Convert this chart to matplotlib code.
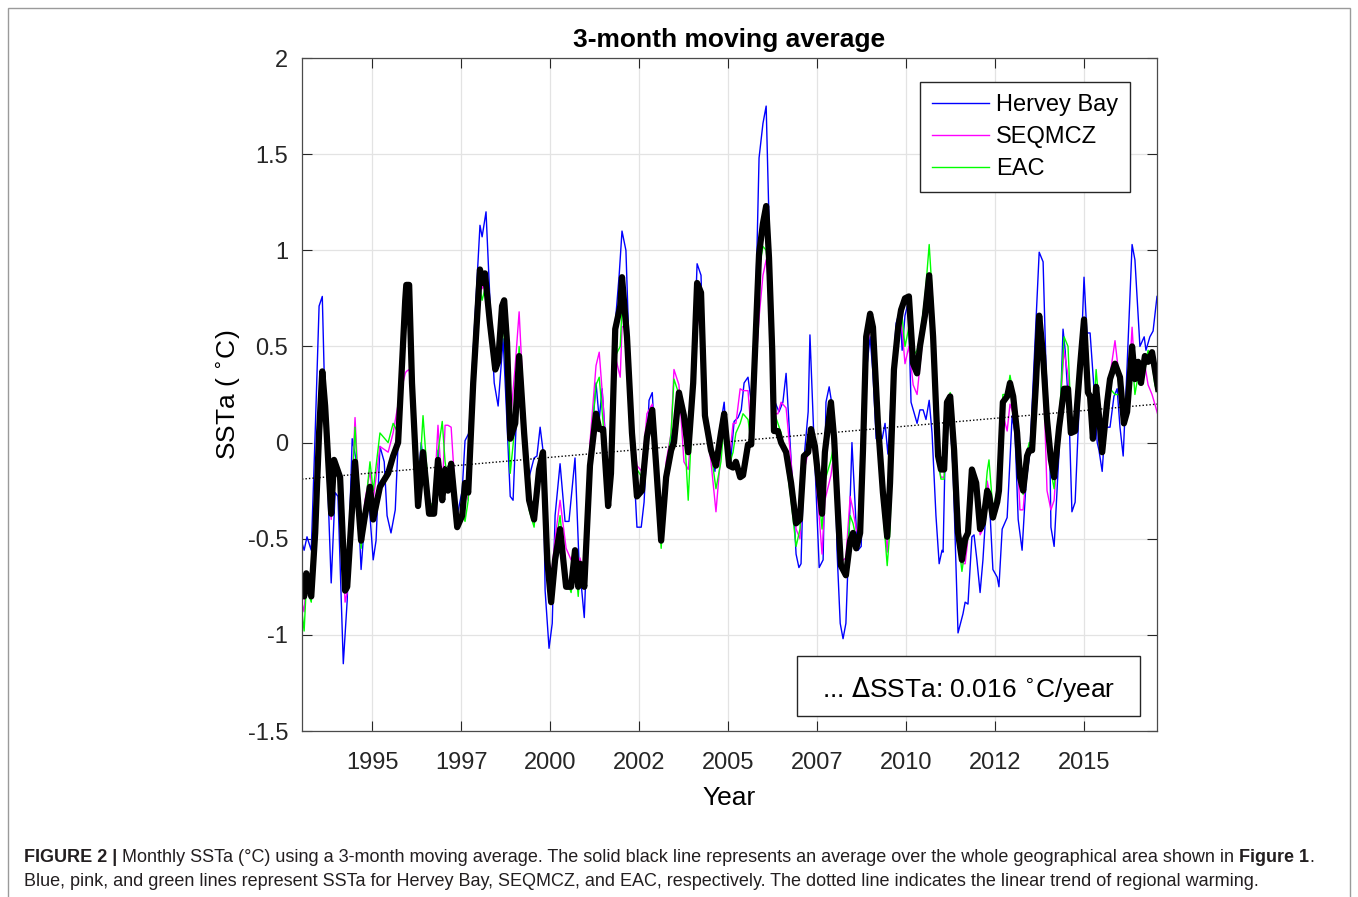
import matplotlib.pyplot as plt
from matplotlib.patches import Rectangle

plt.rcParams['font.family'] = ['Liberation Sans', 'DejaVu Sans']

# ---------------------------------------------------------------
# data (decimal year, SSTa in degC)
# ---------------------------------------------------------------
yr = [1993.01, 1993.09, 1993.15, 1993.29, 1993.40, 1993.51, 1993.60, 1993.68, 1993.85, 1993.93,
      1994.10, 1994.24, 1994.30, 1994.52, 1994.69, 1994.80, 1994.94, 1995.03, 1995.22, 1995.45,
      1995.59, 1995.73, 1995.93, 1995.96, 1996.04, 1996.12, 1996.29, 1996.43, 1996.60, 1996.74,
      1996.85, 1996.97, 1997.05, 1997.13, 1997.22, 1997.39, 1997.53, 1997.61, 1997.70, 1997.84,
      1998.03, 1998.09, 1998.17, 1998.31, 1998.46, 1998.54, 1998.65, 1998.71, 1998.79, 1998.88,
      1999.02, 1999.13, 1999.27, 1999.41, 1999.55, 1999.69, 1999.80, 1999.92, 2000.03, 2000.14,
      2000.28, 2000.45, 2000.59, 2000.70, 2000.79, 2000.84, 2000.96, 2001.12, 2001.29, 2001.38,
      2001.49, 2001.63, 2001.71, 2001.83, 2001.97, 2002.02, 2002.16, 2002.30, 2002.44, 2002.58,
      2002.72, 2002.87, 2002.98, 2003.12, 2003.26, 2003.40, 2003.48, 2003.62, 2003.76, 2003.88,
      2004.02, 2004.13, 2004.24, 2004.35, 2004.52, 2004.66, 2004.80, 2004.89, 2005.03, 2005.14,
      2005.22, 2005.34, 2005.42, 2005.56, 2005.65, 2005.76, 2005.87, 2005.98, 2006.07, 2006.15,
      2006.24, 2006.29, 2006.40, 2006.49, 2006.63, 2006.77, 2006.91, 2007.02, 2007.13, 2007.25,
      2007.33, 2007.44, 2007.64, 2007.72, 2007.89, 2007.98, 2008.09, 2008.17, 2008.31, 2008.43,
      2008.51, 2008.60, 2008.71, 2008.79, 2008.88, 2008.99, 2009.07, 2009.21, 2009.35, 2009.47,
      2009.55, 2009.66, 2009.78, 2009.86, 2009.97, 2010.08, 2010.20, 2010.31, 2010.39, 2010.53,
      2010.65, 2010.76, 2010.90, 2010.98, 2011.07, 2011.15, 2011.24, 2011.35, 2011.46, 2011.57,
      2011.66, 2011.74, 2011.85, 2011.97, 2012.08, 2012.16, 2012.28, 2012.33, 2012.44, 2012.56,
      2012.61, 2012.72, 2012.84, 2012.92, 2013.01, 2013.12, 2013.20, 2013.29, 2013.40, 2013.46,
      2013.54, 2013.65, 2013.74, 2013.85, 2013.96, 2014.07, 2014.16, 2014.30, 2014.44, 2014.55,
      2014.63, 2014.75, 2014.89, 2015.00, 2015.11, 2015.17, 2015.25, 2015.34, 2015.42, 2015.51,
      2015.65, 2015.73, 2015.87, 2016.01, 2016.12, 2016.21, 2016.35, 2016.43, 2016.52, 2016.60,
      2016.71, 2016.80, 2016.91, 2016.99, 2017.08]

ssta_avg = [-0.70, -0.80, -0.68, -0.80, -0.47, 0.05, 0.37, 0.19, -0.37, -0.09,
            -0.18, -0.77, -0.75, -0.10, -0.51, -0.38, -0.23, -0.40, -0.23, -0.16,
            -0.07, 0.00, 0.74, 0.82, 0.82, 0.31, -0.33, -0.05, -0.37, -0.37,
            -0.09, -0.30, -0.14, -0.25, -0.11, -0.44, -0.38, -0.21, -0.26, 0.31,
            0.90, 0.83, 0.88, 0.62, 0.38, 0.42, 0.71, 0.74, 0.52, 0.02,
            0.10, 0.45, 0.05, -0.30, -0.40, -0.14, -0.05, -0.61, -0.83, -0.61,
            -0.45, -0.75, -0.75, -0.56, -0.75, -0.63, -0.75, -0.12, 0.15, 0.07,
            0.07, -0.33, -0.16, 0.59, 0.71, 0.86, 0.55, 0.05, -0.28, -0.25,
            0.03, 0.17, -0.12, -0.51, -0.18, -0.04, 0.00, 0.26, 0.14, -0.05,
            0.31, 0.83, 0.78, 0.14, -0.04, -0.12, 0.05, 0.15, -0.12, -0.13,
            -0.10, -0.18, -0.17, -0.01, -0.01, 0.48, 0.98, 1.14, 1.23, 0.96,
            0.48, 0.06, 0.06, 0.00, -0.05, -0.21, -0.42, -0.40, -0.07, -0.05,
            0.07, -0.02, -0.37, -0.05, 0.21, 0.02, -0.38, -0.64, -0.69, -0.51,
            -0.47, -0.55, -0.47, -0.04, 0.55, 0.67, 0.60, 0.10, -0.26, -0.49,
            -0.21, 0.38, 0.60, 0.69, 0.75, 0.76, 0.41, 0.36, 0.50, 0.66,
            0.87, 0.55, -0.07, -0.14, -0.14, 0.21, 0.24, -0.04, -0.47, -0.61,
            -0.50, -0.47, -0.14, -0.21, -0.45, -0.42, -0.25, -0.27, -0.39, -0.31,
            -0.25, 0.21, 0.24, 0.31, 0.24, 0.05, -0.18, -0.25, -0.07, -0.04,
            -0.04, 0.31, 0.66, 0.45, 0.12, -0.09, -0.18, 0.08, 0.28, 0.28,
            0.05, 0.06, 0.40, 0.64, 0.26, 0.24, 0.02, 0.29, 0.14, -0.05,
            0.21, 0.33, 0.41, 0.34, 0.10, 0.16, 0.50, 0.33, 0.42, 0.31,
            0.45, 0.42, 0.47, 0.38, 0.28]

ssta_seqmcz = [-0.82, -0.88, -0.72, -0.80, -0.45, 0.05, 0.37, 0.20, -0.40, -0.12,
               -0.20, -0.83, -0.78, 0.13, -0.50, -0.30, -0.15, -0.30, -0.02, -0.05,
               0.05, 0.20, 0.36, 0.37, 0.38, 0.30, -0.30, -0.05, -0.35, -0.30,
               0.09, -0.25, 0.09, 0.09, 0.08, -0.42, -0.38, -0.25, -0.30, 0.30,
               0.88, 0.80, 0.85, 0.60, 0.40, 0.45, 0.70, 0.72, 0.50, 0.10,
               0.40, 0.68, 0.15, -0.30, -0.40, -0.15, -0.05, -0.55, -0.70, -0.50,
               -0.30, -0.55, -0.61, -0.55, -0.65, -0.60, -0.70, 0.00, 0.40, 0.47,
               0.20, -0.25, -0.10, 0.45, 0.34, 0.60, 0.62, 0.10, -0.12, -0.15,
               0.15, 0.20, -0.05, -0.50, -0.10, 0.05, 0.38, 0.30, -0.10, -0.14,
               0.20, 0.60, 0.75, 0.15, -0.10, -0.36, -0.05, 0.10, -0.10, 0.10,
               0.10, 0.28, 0.27, 0.27, 0.05, 0.35, 0.65, 0.87, 0.95, 0.80,
               0.40, 0.15, 0.15, 0.21, 0.18, -0.10, -0.45, -0.50, -0.15, -0.05,
               0.05, -0.10, -0.58, -0.30, -0.17, -0.05, -0.40, -0.62, -0.60, -0.28,
               -0.35, -0.45, -0.50, -0.05, 0.45, 0.60, 0.55, 0.10, -0.30, -0.57,
               -0.30, 0.35, 0.60, 0.65, 0.41, 0.50, 0.30, 0.25, 0.40, 0.65,
               0.88, 0.50, -0.10, -0.18, -0.18, 0.15, 0.22, -0.05, -0.50, -0.63,
               -0.63, -0.50, -0.20, -0.25, -0.48, -0.45, -0.20, -0.25, -0.40, -0.35,
               -0.28, 0.15, 0.06, 0.20, 0.15, -0.05, -0.35, -0.35, -0.10, -0.05,
               -0.05, 0.30, 0.60, 0.40, -0.25, -0.35, -0.30, 0.10, 0.48, 0.35,
               0.05, 0.05, 0.35, 0.55, 0.25, 0.20, 0.05, 0.30, 0.12, -0.05,
               0.25, 0.35, 0.53, 0.30, 0.10, 0.15, 0.60, 0.35, 0.40, 0.30,
               0.40, 0.30, 0.25, 0.20, 0.14]

ssta_eac = [-0.85, -0.98, -0.75, -0.83, -0.45, 0.05, 0.35, 0.18, -0.38, -0.10,
            -0.20, -0.78, -0.72, 0.08, -0.55, -0.35, -0.10, -0.25, 0.05, 0.00,
            0.10, 0.05, 0.65, 0.80, 0.80, 0.30, -0.30, 0.14, -0.30, -0.35,
            -0.05, 0.11, -0.10, -0.20, -0.15, -0.45, -0.35, -0.41, -0.30, 0.30,
            0.80, 0.74, 0.80, 0.62, 0.45, 0.42, 0.70, 0.55, 0.30, -0.16,
            0.10, 0.50, 0.05, -0.35, -0.44, -0.15, -0.05, -0.60, -0.78, -0.55,
            -0.38, -0.70, -0.78, -0.60, -0.80, -0.65, -0.75, -0.05, 0.30, 0.34,
            0.10, -0.30, -0.15, 0.45, 0.50, 0.70, 0.55, 0.05, -0.14, -0.18,
            0.10, 0.05, -0.15, -0.55, -0.15, 0.05, 0.33, 0.25, 0.10, -0.30,
            0.25, 0.75, 0.75, 0.15, -0.05, -0.24, -0.10, 0.10, -0.12, -0.05,
            0.05, 0.10, 0.15, 0.12, 0.00, 0.45, 0.90, 1.02, 1.00, 0.85,
            0.40, 0.16, 0.10, 0.05, -0.10, -0.30, -0.54, -0.45, -0.10, -0.05,
            0.05, -0.05, -0.45, -0.20, -0.09, 0.00, -0.38, -0.62, -0.65, -0.38,
            -0.42, -0.50, -0.45, -0.05, 0.50, 0.62, 0.55, 0.05, -0.35, -0.64,
            -0.45, 0.35, 0.65, 0.71, 0.50, 0.60, 0.45, 0.48, 0.55, 0.75,
            1.03, 0.70, -0.10, -0.19, -0.19, 0.20, 0.26, -0.05, -0.50, -0.67,
            -0.55, -0.50, -0.15, -0.20, -0.45, -0.40, -0.15, -0.09, -0.35, -0.25,
            -0.20, 0.25, 0.25, 0.35, 0.26, 0.05, -0.15, -0.27, -0.05, 0.00,
            0.00, 0.35, 0.62, 0.45, 0.05, -0.15, -0.24, 0.10, 0.55, 0.50,
            0.15, 0.05, 0.35, 0.60, 0.30, 0.10, 0.10, 0.38, 0.20, 0.00,
            0.20, 0.28, 0.25, 0.25, 0.10, 0.18, 0.45, 0.25, 0.35, 0.40,
            0.38, 0.48, 0.42, 0.30, 0.25]

# Hervey Bay deviates a lot, so it has its own vertices
yr_hb = [1993.01, 1993.09, 1993.17, 1993.29, 1993.40, 1993.51, 1993.60, 1993.68, 1993.85, 1993.96,
         1994.04, 1994.19, 1994.30, 1994.44, 1994.55, 1994.69, 1994.80, 1994.92, 1995.03, 1995.11,
         1995.22, 1995.34, 1995.42, 1995.53, 1995.65, 1995.73, 1995.87, 1995.96, 1996.04, 1996.12,
         1996.29, 1996.38, 1996.46, 1996.63, 1996.74, 1996.85, 1996.94, 1997.05, 1997.13, 1997.22,
         1997.39, 1997.53, 1997.61, 1997.72, 1997.84, 1998.03, 1998.09, 1998.20, 1998.31, 1998.43,
         1998.54, 1998.68, 1998.79, 1998.88, 1998.96, 1999.02, 1999.13, 1999.27, 1999.41, 1999.55,
         1999.63, 1999.72, 1999.80, 1999.86, 1999.97, 2000.06, 2000.14, 2000.28, 2000.42, 2000.53,
         2000.70, 2000.81, 2000.96, 2001.12, 2001.29, 2001.38, 2001.46, 2001.66, 2001.80, 2001.94,
         2002.02, 2002.13, 2002.28, 2002.44, 2002.56, 2002.64, 2002.78, 2002.87, 2002.98, 2003.12,
         2003.26, 2003.40, 2003.57, 2003.76, 2003.90, 2004.04, 2004.13, 2004.24, 2004.35, 2004.52,
         2004.63, 2004.75, 2004.89, 2004.97, 2005.06, 2005.17, 2005.28, 2005.37, 2005.45, 2005.56,
         2005.65, 2005.76, 2005.87, 2005.98, 2006.07, 2006.15, 2006.24, 2006.32, 2006.43, 2006.54,
         2006.63, 2006.77, 2006.91, 2006.99, 2007.05, 2007.13, 2007.25, 2007.30, 2007.42, 2007.56,
         2007.67, 2007.75, 2007.84, 2007.95, 2008.03, 2008.06, 2008.15, 2008.23, 2008.31, 2008.40,
         2008.48, 2008.60, 2008.65, 2008.74, 2008.85, 2008.99, 2009.07, 2009.16, 2009.27, 2009.33,
         2009.41, 2009.49, 2009.58, 2009.72, 2009.83, 2009.89, 2009.97, 2010.06, 2010.14, 2010.25,
         2010.31, 2010.39, 2010.48, 2010.56, 2010.65, 2010.73, 2010.84, 2010.93, 2011.01, 2011.04,
         2011.12, 2011.21, 2011.32, 2011.46, 2011.60, 2011.66, 2011.74, 2011.85, 2011.91, 2011.99,
         2012.08, 2012.16, 2012.28, 2012.33, 2012.44, 2012.56, 2012.61, 2012.70, 2012.84, 2012.98,
         2013.06, 2013.15, 2013.26, 2013.37, 2013.48, 2013.57, 2013.68, 2013.74, 2013.85, 2013.93,
         2014.04, 2014.07, 2014.16, 2014.30, 2014.41, 2014.47, 2014.58, 2014.66, 2014.75, 2014.89,
         2015.00, 2015.08, 2015.17, 2015.28, 2015.37, 2015.42, 2015.51, 2015.59, 2015.73, 2015.84,
         2015.93, 2016.01, 2016.10, 2016.21, 2016.35, 2016.43, 2016.57, 2016.69, 2016.74, 2016.85,
         2016.94, 2017.05]

ssta_hervey = [-0.51, -0.56, -0.49, -0.56, 0.05, 0.71, 0.76, 0.16, -0.73, -0.26,
               -0.28, -1.15, -0.82, 0.02, -0.09, -0.66, -0.38, -0.33, -0.61, -0.51,
               -0.02, -0.10, -0.38, -0.47, -0.35, 0.00, 0.54, 0.81, 0.82, 0.31,
               -0.21, 0.00, -0.14, -0.31, -0.37, -0.04, -0.31, -0.14, -0.23, -0.11,
               -0.38, -0.25, 0.01, 0.05, 0.48, 1.13, 1.07, 1.20, 0.74, 0.31,
               0.19, 0.54, 0.10, -0.28, -0.30, -0.02, 0.45, 0.05, -0.18, -0.08,
               -0.07, 0.08, -0.04, -0.77, -1.07, -0.94, -0.38, -0.11, -0.41, -0.41,
               -0.08, -0.61, -0.91, -0.11, 0.31, 0.12, 0.28, -0.25, 0.55, 0.87,
               1.10, 1.00, 0.14, -0.44, -0.44, -0.31, 0.22, 0.26, -0.12, -0.49,
               -0.14, 0.02, 0.16, 0.16, 0.03, 0.48, 0.93, 0.87, 0.14, -0.04,
               -0.15, 0.05, 0.21, -0.02, -0.12, 0.11, 0.13, 0.17, 0.31, 0.34,
               0.21, 0.58, 1.48, 1.66, 1.75, 1.16, 0.48, 0.21, 0.16, 0.21,
               0.36, -0.09, -0.58, -0.65, -0.63, -0.09, 0.16, 0.56, -0.02, -0.65,
               -0.61, 0.21, 0.29, 0.16, -0.29, -0.56, -0.94, -1.02, -0.94, -0.47,
               0.00, -0.44, -0.56, -0.54, 0.31, 0.55, 0.36, 0.02, 0.03, 0.02,
               0.10, -0.06, 0.21, 0.62, 0.69, 0.48, 0.66, 0.73, 0.21, 0.14,
               0.10, 0.17, 0.17, 0.12, 0.22, 0.05, -0.38, -0.63, -0.56, -0.57,
               0.14, 0.21, -0.14, -0.99, -0.89, -0.83, -0.84, -0.49, -0.48, -0.61,
               -0.78, -0.61, -0.25, -0.26, -0.66, -0.70, -0.75, -0.45, -0.39, 0.14,
               0.05, -0.40, -0.56, -0.21, -0.05, 0.31, 0.74, 0.99, 0.94, 0.40,
               -0.04, -0.44, -0.54, -0.04, 0.59, 0.48, 0.14, -0.36, -0.31, 0.31,
               0.86, 0.57, 0.57, 0.28, 0.00, -0.04, -0.15, 0.08, 0.08, 0.24,
               0.28, 0.08, -0.07, 0.40, 1.03, 0.95, 0.50, 0.55, 0.48, 0.55,
               0.58, 0.76]

# dotted linear trend (0.016 degC/year)
trend_yr = [1993.03, 2017.05]
trend_val = [-0.19, 0.20]

xtick_pos = [1995, 1997.5, 2000, 2002.5, 2005, 2007.5, 2010, 2012.5, 2015]
xtick_lab = ['1995', '1997', '2000', '2002', '2005', '2007', '2010', '2012', '2015']
ytick_pos = [-1.5, -1, -0.5, 0, 0.5, 1, 1.5, 2]
ytick_lab = ['-1.5', '-1', '-0.5', '0', '0.5', '1', '1.5', '2']

# ---------------------------------------------------------------
# figure
# ---------------------------------------------------------------
W, H = 1358, 897
fig = plt.figure(figsize=(W / 100, H / 100), dpi=100)
ax = fig.add_axes([302 / W, 1 - 731 / H, (1157 - 302) / W, (731 - 58) / H])

ax.plot(yr_hb, ssta_hervey, color='#0000ff', lw=1.0, label='Hervey Bay')
ax.plot(yr, ssta_seqmcz, color='#ff00ff', lw=1.0, label='SEQMCZ')
ax.plot(yr, ssta_eac, color='#00ff00', lw=1.0, label='EAC')
ax.plot(yr, ssta_avg, color='black', lw=4.5, solid_joinstyle='round')
ax.plot(trend_yr, trend_val, color='black', lw=1.0, ls=(0, (1, 1.5)))

ax.set_xlim(1993.03, 2017.05)
ax.set_ylim(-1.5, 2)
ax.set_xticks(xtick_pos)
ax.set_xticklabels(xtick_lab)
ax.set_yticks(ytick_pos)
ax.set_yticklabels(ytick_lab)
ax.tick_params(direction='in', top=True, right=True, length=7, width=0.8,
               labelsize=17, colors='#262626')
ax.tick_params(axis='x', pad=15)
ax.tick_params(axis='y', pad=10)
ax.grid(True, color='#e3e3e3', lw=0.9)
ax.set_axisbelow(True)
for sp in ax.spines.values():
    sp.set_color('#4a4a4a')
    sp.set_linewidth(0.9)

ax.set_title('3-month moving average', fontsize=19, fontweight='bold', pad=8)
ax.set_xlabel('Year', fontsize=19, labelpad=9)
ax.set_ylabel('SSTa ( $^{\\circ}$C)', fontsize=19, labelpad=4)

leg = ax.legend(loc='upper right', bbox_to_anchor=(0.968, 0.964), borderaxespad=0,
                fontsize=17, handlelength=2.4, handletextpad=0.3, labelspacing=0.42,
                fancybox=False, framealpha=1, borderpad=0.5)
leg.get_frame().set_edgecolor('#262626')
leg.get_frame().set_linewidth(1.0)

# trend annotation box
ax.add_patch(Rectangle((0.579, 0.0223), 0.401, 0.089, transform=ax.transAxes,
                       facecolor='white', edgecolor='#262626', lw=1.0, zorder=5))
ax.text(0.779, 0.062, '... $\\Delta$SSTa: 0.016 $^{\\circ}$C/year', transform=ax.transAxes,
        ha='center', va='center', fontsize=19, zorder=6)

# outer frame
fig.add_artist(Rectangle((8 / W, -0.01), (1350 - 8) / W, 1 - 8 / H + 0.01,
                         transform=fig.transFigure, fill=False, edgecolor='#9a9a9a', lw=1.0))

# caption
renderer = fig.canvas.get_renderer()


def caption_line(runs, y_px):
    x = 24
    for s, w in runs:
        t = fig.text(x / W, 1 - y_px / H, s, fontsize=13, fontweight=w,
                     ha='left', va='center', color='#231f20')
        x += t.get_window_extent(renderer).width


caption_line([('FIGURE 2 |', 'bold'),
              (' Monthly SSTa (\u00b0C) using a 3-month moving average. The solid black line represents '
               'an average over the whole geographical area shown in ', 'normal'),
              ('Figure 1', 'bold'), ('.', 'normal')], 857)
caption_line([('Blue, pink, and green lines represent SSTa for Hervey Bay, SEQMCZ, and EAC, respectively. '
               'The dotted line indicates the linear trend of regional warming.', 'normal')], 881)

fig.savefig('out.png', dpi=100)
